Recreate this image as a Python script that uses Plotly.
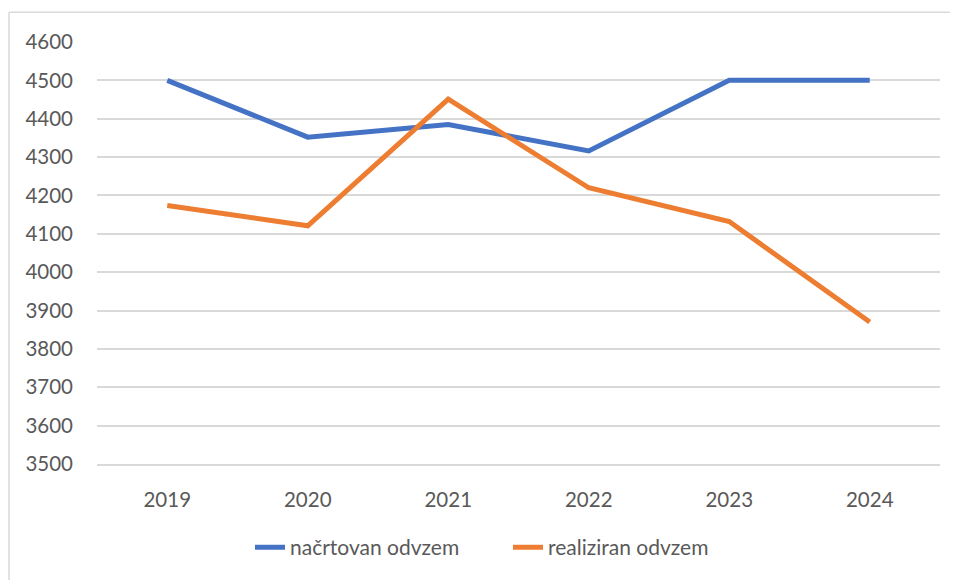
import plotly.graph_objects as go

# podatki
years = ["2019", "2020", "2021", "2022", "2023", "2024"]
nacrtovan = [4500, 4352, 4385, 4316, 4500, 4500]
realiziran = [4174, 4121, 4451, 4220, 4132, 3870]
y_ticks = [3500, 3600, 3700, 3800, 3900, 4000, 4100, 4200, 4300, 4400, 4500, 4600]

blue = "#4472C4"
orange = "#ED7D31"
text_color = "#595959"
grid_color = "#D9D9D9"

# stran ima 8px odmika (body margin), zato je slika malo manjša
W, H = 950, 572
L, R, T, B = 89, 18, 34, 114
pw, ph = W - L - R, H - T - B

fig = go.Figure()

fig.add_trace(
    go.Scatter(
        x=years,
        y=nacrtovan,
        mode="lines",
        name="načrtovan odvzem",
        line=dict(color=blue, width=5),
    )
)

fig.add_trace(
    go.Scatter(
        x=years,
        y=realiziran,
        mode="lines",
        name="realiziran odvzem",
        line=dict(color=orange, width=5),
    )
)

# okvir grafa (levo in zgoraj)
fig.add_shape(type="line", xref="paper", yref="paper",
              x0=-(L - 1) / pw, x1=-(L - 1) / pw, y0=1 + (T - 4) / ph, y1=-(B + 5) / ph,
              line=dict(color=grid_color, width=1.5))
fig.add_shape(type="line", xref="paper", yref="paper",
              x0=-(L - 1) / pw, x1=1 + (R + 5) / pw, y0=1 + (T - 4) / ph, y1=1 + (T - 4) / ph,
              line=dict(color=grid_color, width=1.5))

fig.update_layout(
    width=W,
    height=H,
    margin=dict(l=L, r=R, t=T, b=B),
    paper_bgcolor="white",
    plot_bgcolor="white",
    font=dict(family="Lato, 'Open Sans', sans-serif", size=20.5, color=text_color),
    showlegend=True,
    legend=dict(
        orientation="h",
        x=(235 - 8 - L + 15) / pw,
        y=-84 / ph,
        xanchor="left",
        yanchor="middle",
        font=dict(size=21, color=text_color),
        itemwidth=30,
        entrywidth=213,
        bgcolor="rgba(0,0,0,0)",
    ),
    xaxis=dict(
        type="category",
        range=[-0.5, 5.5],
        showgrid=False,
        showline=True,
        linecolor=grid_color,
        linewidth=1.5,
        zeroline=False,
        ticks="",
        ticklabelstandoff=17,
    ),
    yaxis=dict(
        range=[3500, 4600],
        tickmode="array",
        tickvals=y_ticks,
        showgrid=True,
        gridcolor=grid_color,
        gridwidth=1.5,
        zeroline=False,
        showline=False,
        ticks="",
        ticklabelstandoff=23,
    ),
)

fig.write_html("out.html")
